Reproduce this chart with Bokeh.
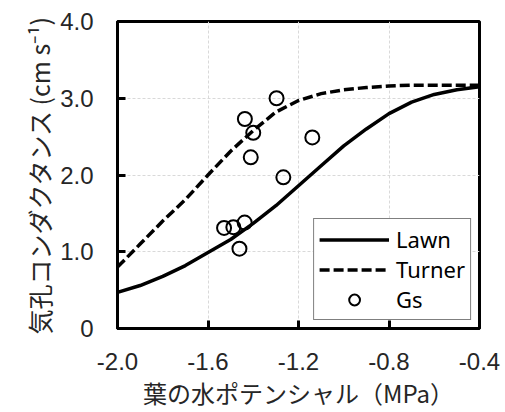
from bokeh.plotting import figure
from bokeh.models import FixedTicker, Legend, LegendItem, ColumnDataSource
from bokeh.embed import file_html
from bokeh.resources import INLINE

# ---- data ----
curve_x = [-2.0, -1.9, -1.8, -1.7, -1.6, -1.5, -1.4, -1.3, -1.2, -1.1,
           -1.0, -0.9, -0.8, -0.7, -0.6, -0.5, -0.4]
lawn_y = [0.47, 0.56, 0.68, 0.82, 0.99, 1.16, 1.37, 1.60, 1.86, 2.12,
          2.38, 2.60, 2.80, 2.95, 3.05, 3.11, 3.15]
turner_y = [0.80, 1.10, 1.40, 1.68, 2.00, 2.31, 2.58, 2.82, 2.97, 3.06,
            3.11, 3.14, 3.16, 3.17, 3.17, 3.17, 3.17]
gs_x = [-1.297, -1.437, -1.400, -1.139, -1.411, -1.267, -1.529, -1.488, -1.438, -1.461]
gs_y = [3.00, 2.73, 2.55, 2.49, 2.23, 1.97, 1.31, 1.32, 1.38, 1.04]

x_ticks = [-2.0, -1.6, -1.2, -0.8, -0.4]
x_tick_labels = ["-2.0", "-1.6", "-1.2", "-0.8", "-0.4"]
y_ticks = [0, 1, 2, 3, 4]
y_tick_labels = ["0", "1.0", "2.0", "3.0", "4.0"]

x_title = "葉の水ポテンシャル（MPa）"
y_title = "気孔コンダクタンス (cm s⁻¹)"

JP = "Noto Sans CJK JP"
NUM = "Liberation Sans"
LEG = "Noto Sans"

p = figure(width=505, height=412, output_backend="svg", toolbar_location=None,
           x_range=(-2.0, -0.4), y_range=(0, 4.0),
           min_border_left=117, min_border_right=26, min_border_top=21, min_border_bottom=84)

p.background_fill_color = "white"
p.border_fill_color = "white"
p.outline_line_color = "black"
p.outline_line_width = 3

# grid
for g in (p.xgrid, p.ygrid):
    g.grid_line_color = "#d9d9d9"
    g.grid_line_dash = "3 2"
    g.grid_line_width = 1

# axes
p.xaxis.ticker = FixedTicker(ticks=x_ticks)
p.yaxis.ticker = FixedTicker(ticks=y_ticks)
p.xaxis.major_label_overrides = dict(zip(x_ticks, x_tick_labels))
p.yaxis.major_label_overrides = dict(zip(y_ticks, y_tick_labels))
for ax in (p.xaxis, p.yaxis):
    ax.axis_line_color = "black"
    ax.axis_line_width = 3
    ax.major_tick_line_color = "black"
    ax.major_tick_line_width = 3
    ax.major_tick_in = 8
    ax.major_tick_out = 0
    ax.minor_tick_line_color = None
    ax.major_label_text_font = NUM
    ax.major_label_text_font_size = "24px"
    ax.major_label_text_color = "#262626"
    ax.axis_label_text_font = JP
    ax.axis_label_text_font_style = "normal"
    ax.axis_label_text_color = "#262626"

p.xaxis.major_label_standoff = 24
p.yaxis.major_label_standoff = 24
p.xaxis.axis_label = x_title
p.yaxis.axis_label = y_title
p.xaxis.axis_label_text_font_size = "24px"
p.yaxis.axis_label_text_font_size = "25px"
p.xaxis.axis_label_standoff = 2
p.yaxis.axis_label_standoff = 0

src_curve = ColumnDataSource(dict(x=curve_x, lawn=lawn_y, turner=turner_y))
r_lawn = p.line("x", "lawn", source=src_curve, line_color="black", line_width=3.5)
r_turner = p.line("x", "turner", source=src_curve, line_color="black", line_width=3.5,
                  line_dash="10 4")
src_gs = ColumnDataSource(dict(x=gs_x, y=gs_y))
r_gs = p.scatter("x", "y", source=src_gs, marker="circle", size=14,
                 fill_color=None, line_color="black", line_width=2)

legend = Legend(items=[LegendItem(label="Lawn", renderers=[r_lawn]),
                       LegendItem(label="Turner", renderers=[r_turner]),
                       LegendItem(label="Gs", renderers=[r_gs])],
                location="bottom_right")
legend.margin = 8
legend.padding = 5
legend.spacing = 0
legend.glyph_width = 70
legend.glyph_height = 27
legend.label_height = 27
legend.label_standoff = 7
legend.label_text_font = LEG
legend.label_text_font_size = "22px"
legend.label_text_color = "black"
legend.border_line_color = "black"
legend.border_line_width = 1.5
legend.background_fill_alpha = 1.0
p.add_layout(legend, "center")

open("out.html", "w").write(file_html(p, INLINE))
